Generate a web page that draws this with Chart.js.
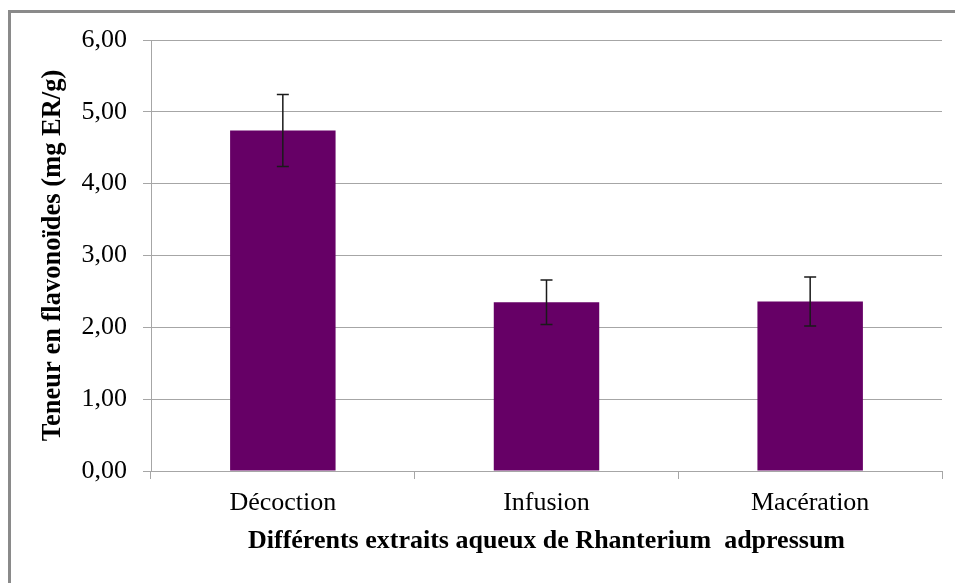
<!DOCTYPE html>
<html>
<head>
<meta charset="utf-8">
<script src="https://cdn.jsdelivr.net/npm/chart.js@4/dist/chart.umd.min.js"></script>
<style>
  html, body { margin: 0; padding: 0; background: #fff; }
  #wrap { position: relative; width: 955px; height: 583px; overflow: hidden; }
  #frame { position: absolute; left: 8px; top: 10px; width: 1000px; height: 700px;
           border-left: 3px solid #8a8a8a; border-top: 3px solid #8a8a8a; box-sizing: border-box; }
  canvas { position: absolute; left: 0; top: 0; }
</style>
</head>
<body>
<div id="wrap">
  <div id="frame"></div>
  <canvas id="c" width="955" height="583"></canvas>
</div>
<script>
const categories = ['Décoction', 'Infusion', 'Macération'];
const values = [4.74, 2.35, 2.36];
const errors = [0.50, 0.31, 0.34];
const xTitle = 'Différents extraits aqueux de Rhanterium  adpressum';
const yTitle = 'Teneur en flavonoïdes (mg ER/g)';

const errorBars = {
  id: 'errorBars',
  afterDatasetsDraw(chart) {
    const ctx = chart.ctx;
    const y = chart.scales.y;
    const meta = chart.getDatasetMeta(0);
    ctx.save();
    ctx.strokeStyle = '#1a1a1a';
    ctx.lineWidth = 1.5;
    meta.data.forEach((bar, i) => {
      const x = bar.x;
      const yt = y.getPixelForValue(values[i] + errors[i]);
      const yb = y.getPixelForValue(values[i] - errors[i]);
      ctx.beginPath();
      ctx.moveTo(x, yt); ctx.lineTo(x, yb);
      ctx.moveTo(x - 6, yt); ctx.lineTo(x + 6, yt);
      ctx.moveTo(x - 6, yb); ctx.lineTo(x + 6, yb);
      ctx.stroke();
    });
    ctx.restore();
  }
};

new Chart(document.getElementById('c'), {
  type: 'bar',
  data: {
    labels: categories,
    datasets: [{
      data: values,
      backgroundColor: '#660066',
      borderWidth: 0,
      barPercentage: 0.4,
      categoryPercentage: 1.0
    }]
  },
  options: {
    responsive: false,
    animation: false,
    devicePixelRatio: 1,
    layout: { padding: { left: 0, top: 40, right: 13, bottom: 0 } },
    plugins: { legend: { display: false }, tooltip: { enabled: false } },
    scales: {
      x: {
        afterFit(s) { s.height = 112; },
        grid: { drawOnChartArea: false, drawTicks: true, tickLength: 8, color: '#a6a6a6', lineWidth: 1 },
        border: { color: '#a6a6a6', width: 1 },
        ticks: { color: '#000', padding: 9, font: { family: 'Liberation Serif', size: 26 } },
        title: {
          display: true, text: xTitle, color: '#000',
          font: { family: 'Liberation Serif', size: 26, weight: 'bold' },
          padding: { top: 0, bottom: 26 }
        }
      },
      y: {
        min: 0, max: 6,
        afterFit(s) { s.width = 151; },
        grid: { drawTicks: true, tickLength: 8, color: '#a6a6a6', lineWidth: 1 },
        border: { color: '#a6a6a6', width: 1 },
        ticks: {
          stepSize: 1, color: '#000', padding: 16,
          font: { family: 'Liberation Serif', size: 26 },
          callback: v => v.toFixed(2).replace('.', ',')
        },
        title: {
          display: true, text: yTitle, color: '#000',
          font: { family: 'Liberation Serif', size: 26.5, weight: 'bold' },
          padding: { top: 37, bottom: 0 }
        }
      }
    }
  },
  plugins: [errorBars]
});
</script>
</body>
</html>
